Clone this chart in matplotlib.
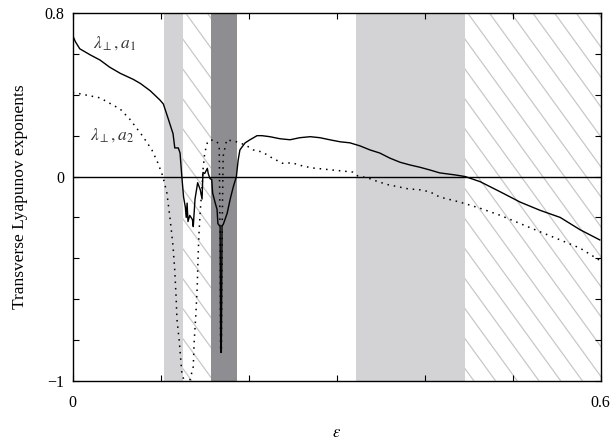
import matplotlib
matplotlib.use("Agg")
import matplotlib.pyplot as plt
import numpy as np
from matplotlib.collections import LineCollection
from matplotlib.patches import Rectangle

# ---- data ----
eps_a1 = [0.0, 0.003, 0.008, 0.020, 0.031, 0.042, 0.054, 0.069, 0.077, 0.088,
          0.099, 0.103, 0.108, 0.114, 0.116, 0.120, 0.122, 0.124, 0.126, 0.128,
          0.129, 0.130, 0.131, 0.133, 0.136, 0.137, 0.139, 0.142, 0.145, 0.147,
          0.148, 0.150, 0.153, 0.154, 0.156, 0.158, 0.159, 0.162, 0.164, 0.165,
          0.1675, 0.1682, 0.1689, 0.1697, 0.171, 0.1755, 0.179, 0.1825, 0.186, 0.188,
          0.190, 0.1925, 0.196, 0.2015, 0.2095, 0.215, 0.224, 0.2355, 0.247, 0.258,
          0.270, 0.281, 0.292, 0.304, 0.315, 0.3265, 0.338, 0.349, 0.3605, 0.372,
          0.383, 0.395, 0.406, 0.417, 0.4345, 0.446, 0.463, 0.486, 0.5085, 0.531,
          0.554, 0.5765, 0.599]
lam_a1 = [0.69, 0.66, 0.625, 0.595, 0.57, 0.535, 0.505, 0.475, 0.455, 0.42,
          0.375, 0.355, 0.29, 0.21, 0.14, 0.14, 0.115, 0.0, -0.10, -0.15,
          -0.20, -0.13, -0.22, -0.19, -0.21, -0.245, -0.11, -0.03, -0.065, -0.11,
          0.02, 0.015, 0.04, 0.015, -0.01, -0.015, -0.08, -0.13, -0.16, -0.23,
          -0.245, -0.86, -0.86, -0.24, -0.235, -0.18, -0.11, -0.05, 0.0, 0.08,
          0.13, 0.145, 0.165, 0.18, 0.20, 0.20, 0.195, 0.185, 0.18, 0.19,
          0.195, 0.19, 0.18, 0.17, 0.165, 0.15, 0.13, 0.115, 0.09, 0.07,
          0.057, 0.045, 0.032, 0.018, 0.008, 0.0, -0.025, -0.075, -0.125, -0.165,
          -0.20, -0.26, -0.31]

eps_a2 = [0.0, 0.008, 0.031, 0.054, 0.065, 0.080, 0.090, 0.097, 0.1025, 0.107,
          0.1105, 0.114, 0.116, 0.1175, 0.1185, 0.121, 0.124, 0.130, 0.137, 0.138,
          0.140, 0.1415, 0.1425, 0.1435, 0.145, 0.147, 0.148, 0.150, 0.153, 0.156,
          0.162, 0.164, 0.1665, 0.1675, 0.168, 0.169, 0.170, 0.171, 0.175, 0.186,
          0.196, 0.2055, 0.2155, 0.227, 0.2385, 0.2495, 0.261, 0.2725, 0.284, 0.295,
          0.307, 0.318, 0.3205, 0.324, 0.3355, 0.347, 0.3585, 0.370, 0.381, 0.395,
          0.406, 0.417, 0.440, 0.463, 0.486, 0.5085, 0.531, 0.554, 0.5765, 0.599]
lam_a2 = [0.41, 0.405, 0.385, 0.33, 0.28, 0.195, 0.13, 0.065, 0.0, -0.08,
          -0.20, -0.34, -0.46, -0.59, -0.70, -0.80, -0.96, -1.05, -0.93, -0.81,
          -0.67, -0.54, -0.39, -0.28, -0.165, -0.05, 0.03, 0.115, 0.165, 0.18,
          0.175, 0.17, 0.15, -0.30, -0.85, -0.85, -0.20, 0.10, 0.18, 0.17,
          0.155, 0.13, 0.12, 0.09, 0.065, 0.067, 0.052, 0.042, 0.037, 0.032,
          0.027, 0.022, 0.013, 0.003, -0.007, -0.025, -0.04, -0.05, -0.06, -0.065,
          -0.075, -0.10, -0.125, -0.155, -0.19, -0.23, -0.27, -0.31, -0.35, -0.41]

light_bands = [(0.1043, 0.1253), (0.3216, 0.4458)]
hatch_bands = [(0.1253, 0.1577), (0.4458, 0.600)]
dark_bands = [(0.1577, 0.187)]

x_ticks = [0.0, 0.1, 0.2, 0.3, 0.4, 0.5, 0.6]
x_ticklabels = ["0", "", "", "", "", "", "0.6"]
y_ticks = [-1.0, -0.8, -0.6, -0.4, -0.2, 0.0, 0.2, 0.4, 0.6, 0.8]
y_ticklabels = ["\u22121", "", "", "", "", "0", "", "", "", "0.8"]

# ---- figure ----
plt.rcParams['font.family'] = ['Liberation Serif', 'DejaVu Serif']
plt.rcParams['mathtext.fontset'] = 'stix'

W, H = 616, 445
fig = plt.figure(figsize=(W / 100, H / 100), dpi=100)
ax_l, ax_b, ax_w, ax_h = 72.7, 64, 528, 368
ax = fig.add_axes([ax_l / W, ax_b / H, ax_w / W, ax_h / H])
ax.set_xlim(0, 0.6)
ax.set_ylim(-1, 0.8)

for a, b in light_bands:
    ax.axvspan(a, b, color='#d3d3d6', lw=0, zorder=0)
for a, b in dark_bands:
    ax.axvspan(a, b, color='#8e8e92', lw=0, zorder=0)

# hatching (diagonal lines, upper-left to lower-right)
slope = 1.38
spacing = 21.7
c0 = 395.0
cs = np.arange(c0 - spacing * 40, ax_w + spacing, spacing)
segs = [[(c / ax_w, 1.0), ((c + ax_h / slope) / ax_w, 0.0)] for c in cs]
for a, b in hatch_bands:
    rect = Rectangle((a, -1), b - a, 1.8, transform=ax.transData,
                     facecolor='none', edgecolor='none')
    ax.add_patch(rect)
    lc = LineCollection(segs, colors='#c8c8c8', linewidths=0.9,
                        transform=ax.transAxes, zorder=0.5)
    ax.add_collection(lc)
    lc.set_clip_path(rect)

ax.axhline(0, color='black', lw=1.0, zorder=2)
ax.plot(eps_a1, lam_a1, color='black', lw=1.0, zorder=3)
ax.plot(eps_a2, lam_a2, color='black', lw=1.1, linestyle=(0, (1, 3.2)), zorder=3)

ax.text(0.023, 0.655, r'$\lambda_{\perp}, a_1$', fontsize=12.5, color='#333333',
        va='center', ha='left')
ax.text(0.020, 0.205, r'$\lambda_{\perp}, a_2$', fontsize=12.5, color='#333333',
        va='center', ha='left')

ax.set_xticks(x_ticks)
ax.set_xticklabels(x_ticklabels)
ax.set_yticks(y_ticks)
ax.set_yticklabels(y_ticklabels)
ax.tick_params(direction='in', length=4, width=0.8, top=True, right=True,
               labelsize=11.5, colors='black')
ax.tick_params(axis='x', pad=10)
ax.tick_params(axis='y', pad=6)
for s in ax.spines.values():
    s.set_linewidth(1.0)

ax.set_ylabel('Transverse Lyapunov exponents', fontsize=12.5, labelpad=12)
ax.set_xlabel(r'$\varepsilon$', fontsize=12, labelpad=10)

fig.savefig('out.png', dpi=100)
